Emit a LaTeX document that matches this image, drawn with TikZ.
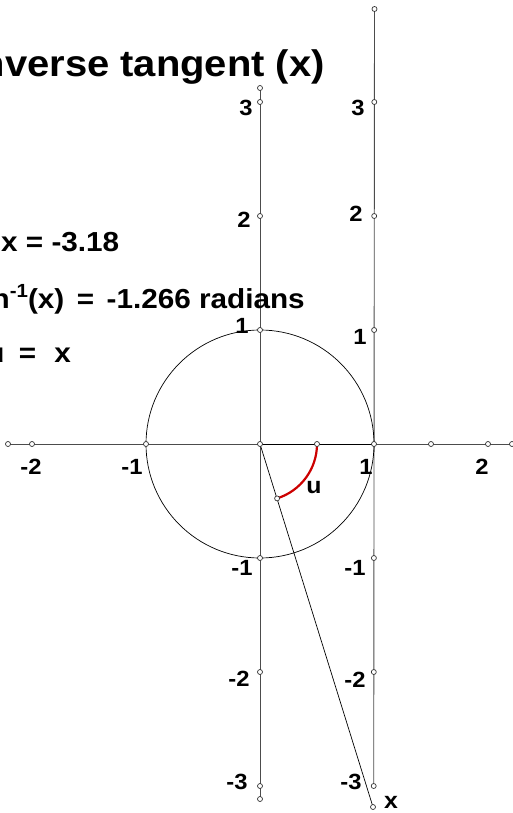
\documentclass[tikz,border=0pt]{standalone}
\usepackage{fontspec}
\setmainfont{Liberation Sans}[FakeStretch=1.08]
\begin{document}
\begin{tikzpicture}[x=1pt,y=-1pt,
  axisline/.style={draw=black!70,line width=0.9pt},
  thinline/.style={draw=black,line width=0.7pt},
  arcline/.style={draw=red!80!black,line width=2.2pt},
  dot/.style={circle,draw=black!80,fill=white,inner sep=0pt,minimum size=5pt,line width=0.7pt},
  ticklbl/.style={font=\fontsize{22}{22}\selectfont\bfseries,inner sep=0pt},
  bigtxt/.style={font=\fontsize{27.5}{28}\selectfont\bfseries,inner sep=0pt},
  titletxt/.style={font=\fontsize{37}{40}\selectfont\bfseries,inner sep=0pt}]
\useasboundingbox (0,0) rectangle (513,813);
\clip (0,0) rectangle (513,813);
% coordinates
\coordinate (O) at (260,444);
\coordinate (LT) at (260,88);
\coordinate (L3) at (260,102);
\coordinate (L2) at (260,216);
\coordinate (L1) at (260,330);
\coordinate (Lm1) at (260,558);
\coordinate (Lm2) at (260,672);
\coordinate (Lm3) at (260,786);
\coordinate (LB) at (260,799);
\coordinate (RT) at (374.5,9);
\coordinate (R3) at (374.3,102);
\coordinate (R2) at (374.2,216);
\coordinate (R1) at (374.1,330);
\coordinate (R0) at (374,444);
\coordinate (Rm1) at (373.9,558);
\coordinate (Rm2) at (373.8,672);
\coordinate (Rm3) at (373.7,786);
\coordinate (X) at (373,807);
\coordinate (HL) at (8,444);
\coordinate (Hm2) at (32,444);
\coordinate (Hm1) at (146,444);
\coordinate (Hh) at (317,444);
\coordinate (H15) at (431,444);
\coordinate (H2) at (488,444);
\coordinate (HR) at (512,444);
\coordinate (U) at (277.1,498.4);
% lines
\draw[axisline] (LT) -- (LB);
\draw[axisline] (RT) -- (Rm3);
\draw[axisline] (HL) -- (HR);
\draw[thinline] (O) -- (R0);
\draw[thinline] (O) circle[radius=114];
\draw[thinline] (O) -- (X);
\draw[arcline] (Hh) arc[start angle=0,end angle=72.54,radius=57];
% points
\foreach \p in {O,LT,L3,L2,L1,Lm1,Lm2,Lm3,LB,RT,R3,R2,R1,R0,Rm1,Rm2,Rm3,X,HL,Hm2,Hm1,Hh,H15,H2,HR,U}
  \node[dot] (d\p) at (\p) {};
% tick labels
\node[ticklbl] (t3) at (246,108) {3};
\node[ticklbl] (t2) at (244,220) {2};
\node[ticklbl] (t1) at (242,326) {1};
\node[ticklbl] (tm1) at (242,568) {-1};
\node[ticklbl] (tm2) at (239,679) {-2};
\node[ticklbl] (tm3) at (237,782) {-3};
\node[ticklbl] (s3) at (358,108) {3};
\node[ticklbl] (s2) at (356,214) {2};
\node[ticklbl] (s1) at (360,337) {1};
\node[ticklbl] (sm1) at (355,568) {-1};
\node[ticklbl] (sm2) at (355,680) {-2};
\node[ticklbl] (sm3) at (351,782) {-3};
\node[ticklbl] (hm2) at (31,467) {-2};
\node[ticklbl] (hm1) at (132,467) {-1};
\node[ticklbl] (h1) at (366,467) {1};
\node[ticklbl] (h2) at (482,467) {2};
\node[ticklbl,font=\fontsize{23}{23}\selectfont\bfseries] (ulbl) at (314,488) {u};
\node[ticklbl,font=\fontsize{23}{23}\selectfont\bfseries] (xlbl) at (391,802) {x};
% texts
\node[titletxt,anchor=base east] (title) at (325,77) {Inverse tangent (x)};
\node[bigtxt,anchor=base west] (xval) at (1,251) {x = -3.18};
\node[bigtxt,anchor=base east] (atan) at (305,308) {tan\raisebox{11pt}{\fontsize{19}{19}\selectfont -1}(x)\hspace{12.5pt}=\hspace{12.5pt}-1.266 radians};
\node[bigtxt,anchor=base east] (tanu) at (71,362) {tan u\hspace{14.5pt}=\hspace{18pt}x};
\end{tikzpicture}
\end{document}
